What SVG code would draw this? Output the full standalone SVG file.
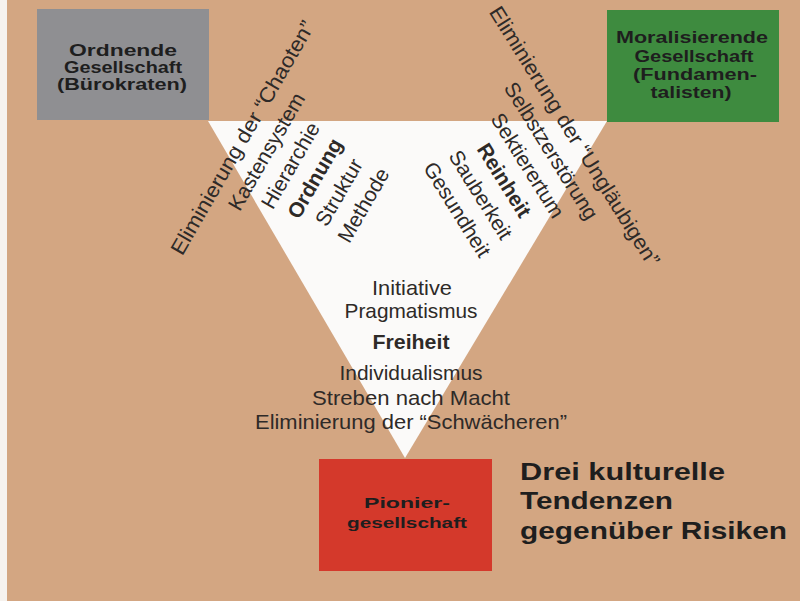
<svg xmlns="http://www.w3.org/2000/svg" width="800" height="601" viewBox="0 0 800 601">
<style>
.t{font-family:"Liberation Sans",Arial,sans-serif;fill:#2e2a28;}
.c{font-size:20px;text-anchor:middle;}
.m{font-size:21px;}
.b{font-weight:bold;}
.box{font-size:16px;font-weight:bold;text-anchor:middle;fill:#1e1e1e;}
.title{font-size:23px;font-weight:bold;fill:#1e1e1e;}
</style>
<rect x="0" y="0" width="800" height="601" fill="#d3a682"/>
<rect x="0" y="0" width="7" height="601" fill="#f6f2ee"/>
<g id="triangle">
<polygon points="208,121 607,121 405,458" fill="#fbfaf9"/>
</g>
<g id="connectors"></g>
<g id="ordnende">
<rect x="37" y="9" width="172" height="111" fill="#8f8f92"/>
<text class="t box" x="123" y="56" textLength="108" lengthAdjust="spacingAndGlyphs">Ordnende</text>
<text class="t box" x="123" y="73" textLength="118" lengthAdjust="spacingAndGlyphs">Gesellschaft</text>
<text class="t box" x="122" y="90" textLength="130" lengthAdjust="spacingAndGlyphs">(Bürokraten)</text>
</g>
<g id="moralisierende">
<rect x="607" y="10" width="172" height="112" fill="#3e8b3f"/>
<text class="t box" x="692" y="43" textLength="152" lengthAdjust="spacingAndGlyphs">Moralisierende</text>
<text class="t box" x="694" y="62" textLength="119" lengthAdjust="spacingAndGlyphs">Gesellschaft</text>
<text class="t box" x="695" y="80" textLength="124" lengthAdjust="spacingAndGlyphs">(Fundamen-</text>
<text class="t box" x="691" y="98" textLength="81" lengthAdjust="spacingAndGlyphs">talisten)</text>
</g>
<g id="pionier">
<rect x="319" y="459" width="173" height="112" fill="#d4392b"/>
<text class="t box" style="font-size:15px" x="407" y="508" textLength="86" lengthAdjust="spacingAndGlyphs">Pionier-</text>
<text class="t box" style="font-size:15px" x="407" y="528" textLength="120" lengthAdjust="spacingAndGlyphs">gesellschaft</text>
</g>
<g id="ordnung-text" transform="rotate(-60)">
<text class="t c m" x="2" y="286" textLength="266" lengthAdjust="spacingAndGlyphs">Eliminierung der “Chaoten”</text>
<text class="t c m" x="2" y="313.7">Kastensystem</text>
<text class="t c m" x="2" y="341.4">Hierarchie</text>
<text class="t c m b" x="3" y="369">Ordnung</text>
<text class="t c m" x="3" y="396.8">Struktur</text>
<text class="t c m" x="4" y="424.5">Methode</text>
</g>
<g id="reinheit-text" transform="rotate(58)">
<text class="t c m" x="420" y="-408" textLength="302" lengthAdjust="spacingAndGlyphs">Eliminierung der “Ungläubigen”</text>
<text class="t c m" x="420" y="-380.3">Selbstzerstörung</text>
<text class="t c m" x="420" y="-352.6">Sektierertum</text>
<text class="t c m b" x="420" y="-324.9">Reinheit</text>
<text class="t c m" x="420" y="-297.2">Sauberkeit</text>
<text class="t c m" x="420" y="-269.5">Gesundheit</text>
</g>
<g id="freiheit-text">
<text class="t c m" x="412" y="295" textLength="80" lengthAdjust="spacingAndGlyphs">Initiative</text>
<text class="t c m" x="411" y="318" textLength="133" lengthAdjust="spacingAndGlyphs">Pragmatismus</text>
<text class="t c m b" x="411" y="349" textLength="77" lengthAdjust="spacingAndGlyphs">Freiheit</text>
<text class="t c m" x="411" y="380" textLength="143" lengthAdjust="spacingAndGlyphs">Individualismus</text>
<text class="t c m" x="411" y="405" textLength="198" lengthAdjust="spacingAndGlyphs">Streben nach Macht</text>
<text class="t c m" x="411" y="429" textLength="312" lengthAdjust="spacingAndGlyphs">Eliminierung der “Schwächeren”</text>
</g>
<g id="title">
<text class="t title" x="520" y="480" textLength="205" lengthAdjust="spacingAndGlyphs">Drei kulturelle</text>
<text class="t title" x="520" y="509" textLength="153" lengthAdjust="spacingAndGlyphs">Tendenzen</text>
<text class="t title" x="520" y="539" textLength="267" lengthAdjust="spacingAndGlyphs">gegenüber Risiken</text>
</g>
</svg>
